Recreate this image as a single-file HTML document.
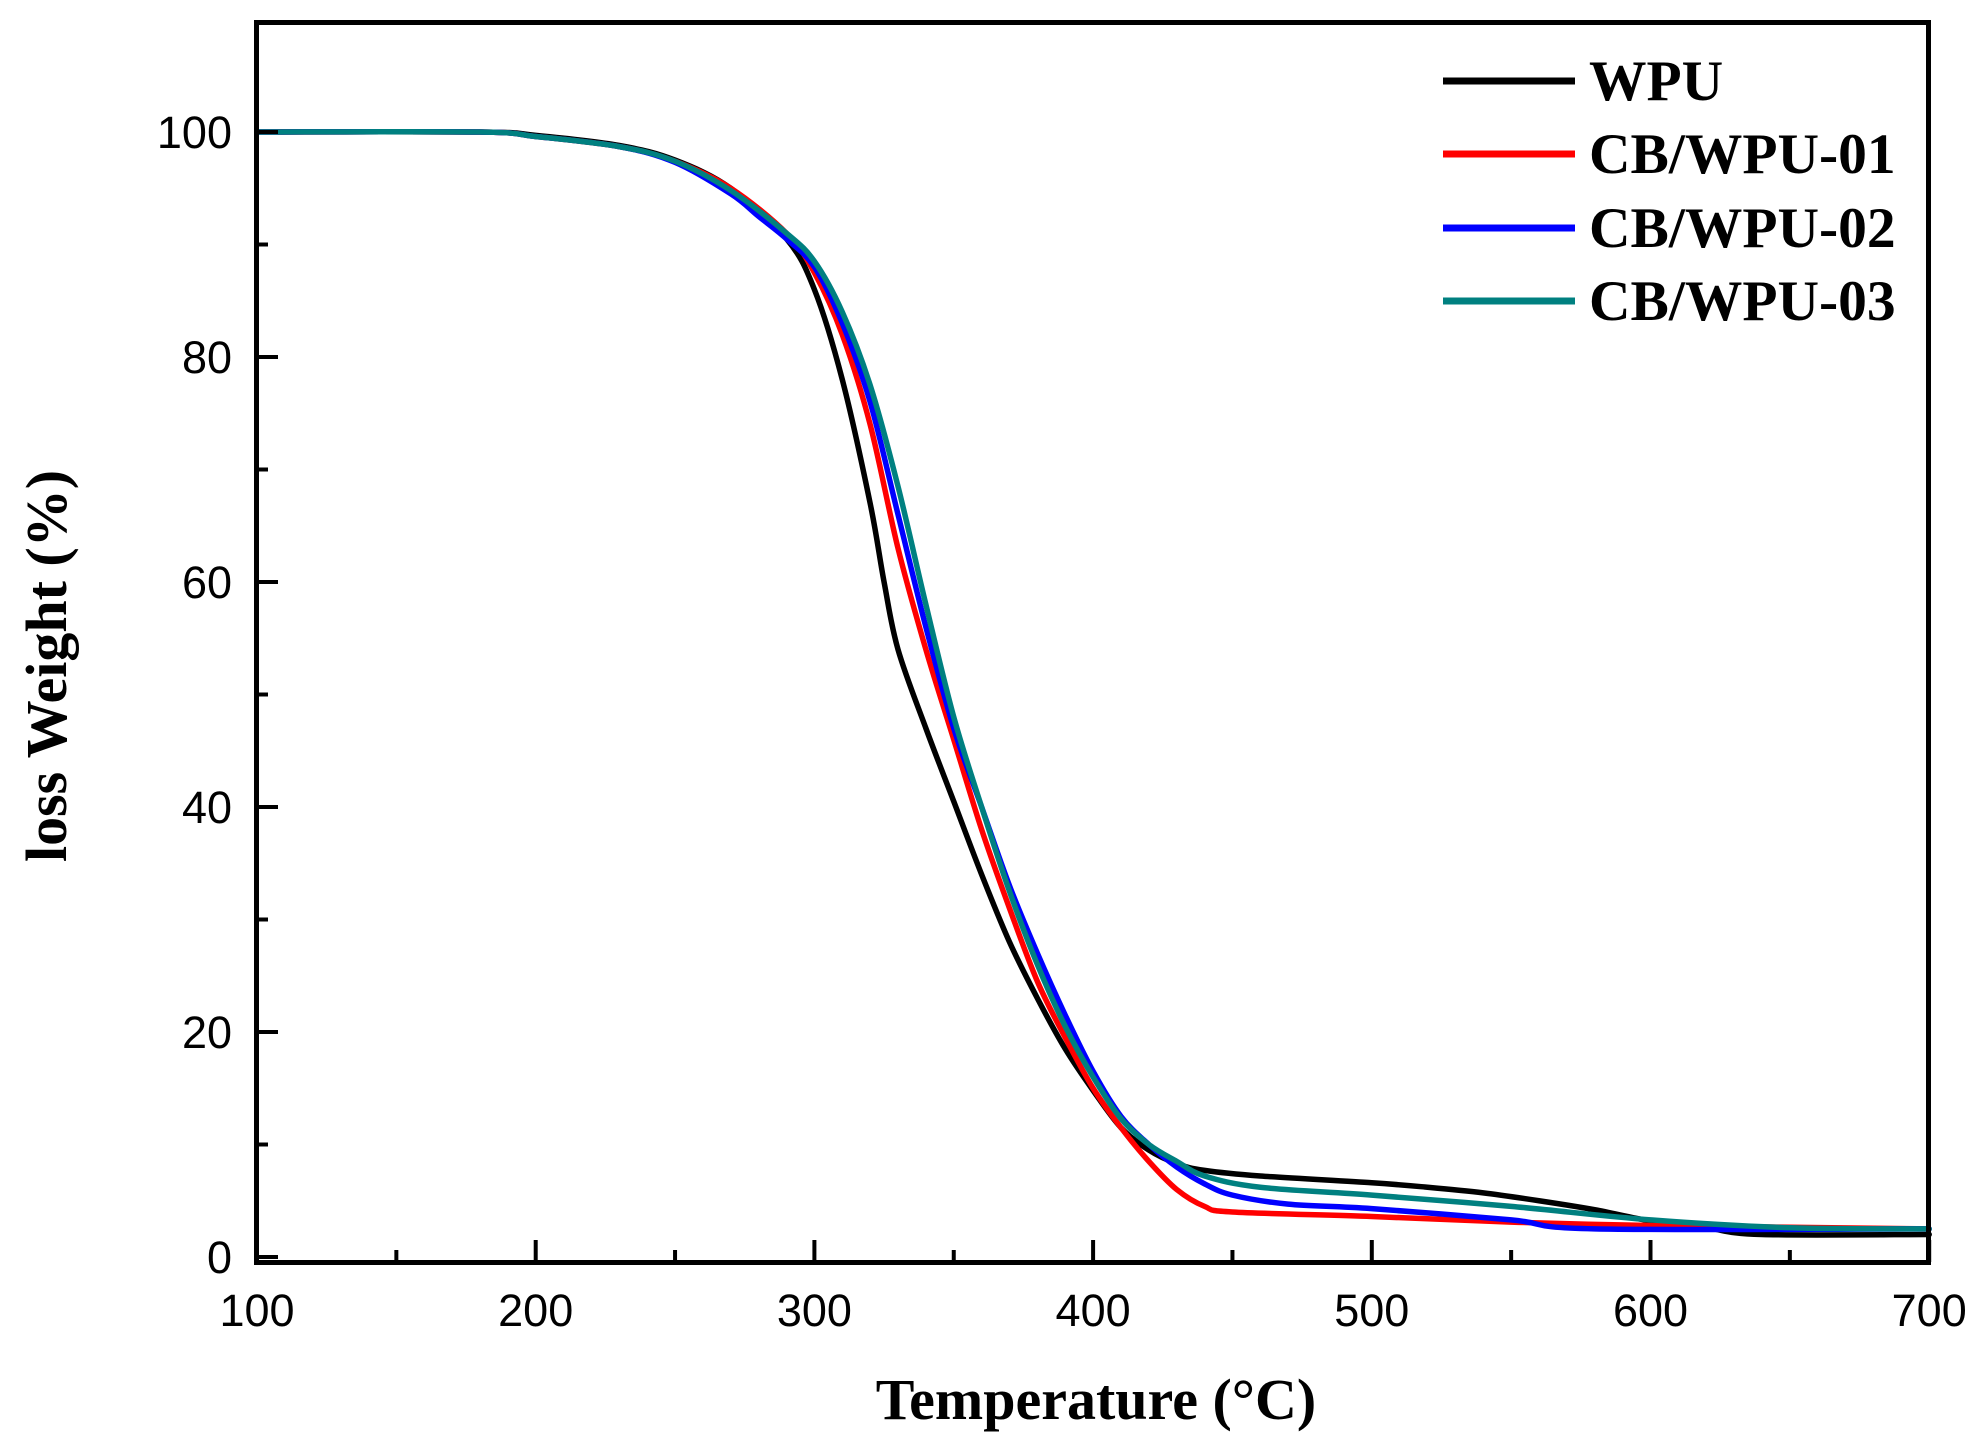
<!DOCTYPE html>
<html><head><meta charset="utf-8"><style>html,body{margin:0;padding:0;background:#fff}svg{display:block}</style></head>
<body>
<svg id="s" width="1980" height="1442" viewBox="0 0 1980 1442" xmlns="http://www.w3.org/2000/svg">
<rect width="1980" height="1442" fill="#fff"/>
<g id="curves" fill="none" stroke-width="5.5" stroke-linejoin="round" stroke-linecap="round"></g>
<rect x="256.5" y="22.5" width="1672" height="1240" fill="none" stroke="#000" stroke-width="5"/>
<g id="ticks" stroke="#000" stroke-width="4"></g>
<g font-family="Liberation Sans, Arial, sans-serif" font-size="45" fill="#000" id="labels"></g>
<text x="1096" y="1419" font-family="Liberation Serif, serif" font-weight="bold" font-size="58" text-anchor="middle">Temperature (°C)</text>
<text transform="translate(66,666) rotate(-90)" font-family="Liberation Serif, serif" font-weight="bold" font-size="58" text-anchor="middle">loss Weight (%)</text>
<g stroke-width="7">
<line x1="1443" y1="81" x2="1575" y2="81" stroke="#000"/>
<line x1="1443" y1="154" x2="1575" y2="154" stroke="#f00"/>
<line x1="1443" y1="228" x2="1575" y2="228" stroke="#00f"/>
<line x1="1443" y1="301" x2="1575" y2="301" stroke="#008080"/>
</g>
<g font-family="Liberation Serif, serif" font-weight="bold" font-size="57.5" fill="#000">
<text x="1589" y="100">WPU</text>
<text x="1589" y="173">CB/WPU-01</text>
<text x="1589" y="247">CB/WPU-02</text>
<text x="1589" y="320">CB/WPU-03</text>
</g>
</svg>
<script>
const X=t=>257+(t-100)*2.787, Y=w=>1257-w*11.25;
const NS="http://www.w3.org/2000/svg";
const data={
"#000":[[100,100],[180,100],[200,99.7],[230,98.8],[250,97.5],[270,95],[290,90.5],[300,86],[310,78],[320,67],[325,60],[330,54],[340,47],[350,40.5],[360,34],[370,28],[380,23],[390,18.5],[400,14.8],[410,11.5],[420,9.5],[430,8.3],[440,7.7],[460,7.2],[500,6.6],[520,6.2],[540,5.7],[560,5],[580,4.2],[600,3.2],[620,2.6],[640,2.0],[700,2.0]],
"#f00":[[100,100],[180,100],[200,99.6],[230,98.7],[250,97.4],[270,95],[290,91],[300,87.5],[310,82],[320,74],[330,63],[340,54],[350,46],[360,38],[370,31],[380,24.5],[390,19.5],[400,15],[410,11.5],[420,8.5],[430,6],[440,4.5],[450,4],[500,3.6],[550,3.1],[600,2.8],[700,2.5]],
"#00f":[[100,100],[180,100],[200,99.6],[230,98.7],[250,97.3],[270,94.5],[280,92.5],[290,90.5],[300,88],[310,83],[320,76],[330,66],[340,56],[350,47],[360,40],[370,33],[380,27],[390,21.5],[400,16.5],[410,12.5],[420,10],[430,8],[440,6.5],[450,5.5],[470,4.7],[500,4.3],[550,3.3],[580,2.5],[700,2.5]],
"#008080":[[100,100],[180,100],[200,99.6],[230,98.7],[250,97.4],[270,94.8],[290,91],[300,88.5],[310,84],[320,77.5],[330,68.5],[340,58],[350,48],[360,40],[370,32.5],[380,26],[390,20.5],[400,16],[410,12.3],[420,10],[430,8.5],[440,7.2],[460,6.2],[500,5.5],[550,4.5],[600,3.3],[650,2.6],[700,2.5]]};
const g=document.getElementById("curves");
for(const c in data){const p=data[c].map(([t,w])=>[X(t),Y(w)]);
let d="M"+p[0];for(let i=0;i<p.length-1;i++){const p0=p[i-1]||p[i],p1=p[i],p2=p[i+1],p3=p[i+2]||p2;
d+=` C${p1[0]+(p2[0]-p0[0])/6},${p1[1]+(p2[1]-p0[1])/6} ${p2[0]-(p3[0]-p1[0])/6},${p2[1]-(p3[1]-p1[1])/6} ${p2[0]},${p2[1]}`;}
const e=document.createElementNS(NS,"path");e.setAttribute("d",d);e.setAttribute("stroke",c);g.appendChild(e);}
const tk=document.getElementById("ticks"),lb=document.getElementById("labels");
function L(a,b,c,d){const e=document.createElementNS(NS,"line");e.setAttribute("x1",a);e.setAttribute("y1",b);e.setAttribute("x2",c);e.setAttribute("y2",d);tk.appendChild(e);}
function T(x,y,s,a){const e=document.createElementNS(NS,"text");e.setAttribute("x",x);e.setAttribute("y",y);e.setAttribute("text-anchor",a);e.textContent=s;lb.appendChild(e);}
for(let t=100;t<=700;t+=50){const x=X(t),maj=t%100==0;L(x,1262,x,1262-(maj?22:12));if(maj)T(x,1326,t,"middle");}
for(let w=0;w<=100;w+=10){const y=Y(w),maj=w%20==0;L(256,y,256+(maj?22:12),y);if(maj)T(232,y+16,w,"end");}
</script>
</body></html>
